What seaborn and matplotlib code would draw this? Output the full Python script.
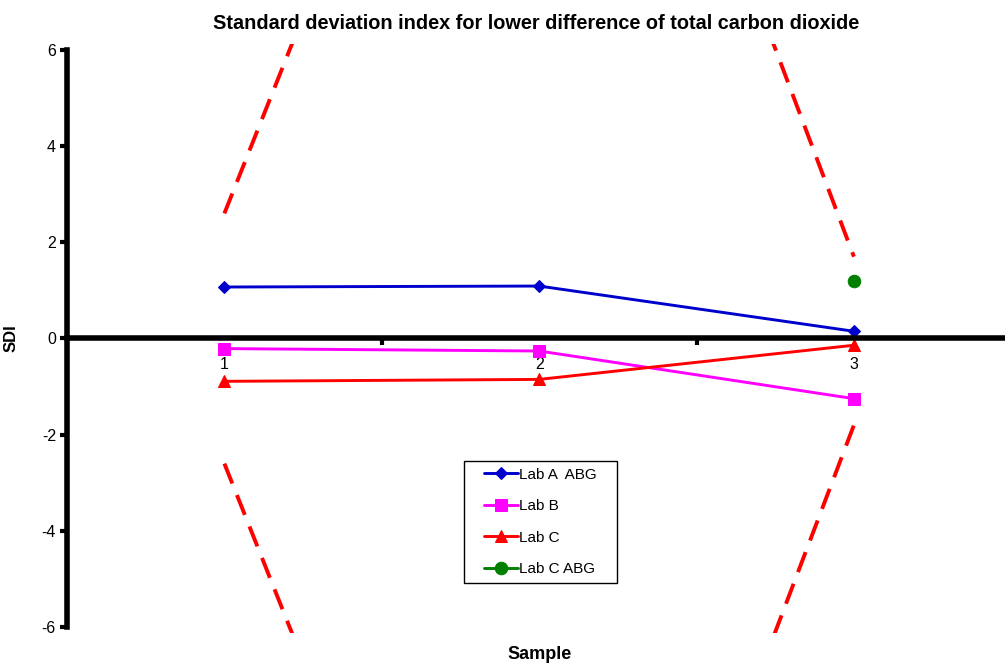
import numpy as np
import pandas as pd
import matplotlib
matplotlib.use("Agg")
import matplotlib.pyplot as plt
from matplotlib.ticker import FixedLocator
from matplotlib.patches import Rectangle
import seaborn as sns

# data
samples = [1, 2, 3]
lab_a_abg = [1.07, 1.09, 0.15]
lab_b = [-0.21, -0.26, -1.25]
lab_c = [-0.89, -0.85, -0.14]
lab_c_abg = [np.nan, np.nan, 1.20]
upper_limit = [2.6, 19.0, 1.7]
lower_limit = [-2.6, -19.0, -1.8]

series = [
    ("Lab A  ABG", lab_a_abg, "#0000CC", "D", 6),
    ("Lab B", lab_b, "#FF00FF", "s", 9),
    ("Lab C", lab_c, "#FF0000", "^", 8),
    ("Lab C ABG", lab_c_abg, "#008000", "o", 9),
]

sns.set_style("white")
plt.rcParams["font.family"] = ["Liberation Sans", "DejaVu Sans"]
plt.rcParams["axes.unicode_minus"] = False
plt.rcParams["text.color"] = "black"
plt.rcParams["axes.labelcolor"] = "black"
plt.rcParams["xtick.color"] = "black"
plt.rcParams["ytick.color"] = "black"

fig = plt.figure(figsize=(10.05, 6.66), dpi=100)
ax = fig.add_axes([67 / 1005, 1 - 633 / 666, 938 / 1005, 589 / 666])

# limit lines (dashed red)
for lim in (upper_limit, lower_limit):
    sns.lineplot(x=samples, y=lim, ax=ax, color="#FF0000", lw=2.8,
                 sort=False, estimator=None, legend=False)
for ln in ax.lines:
    ln.set_dashes([5.5, 3.2])

for name, vals, col, mk, ms in series:
    sns.lineplot(x=samples, y=vals, ax=ax, color=col, marker=mk, markersize=ms,
                 markeredgecolor=col, lw=2.1, label=name, sort=False, estimator=None)

ax.set_xlim(0.5, 3.48)
ax.set_ylim(-6.12, 6.12)

for s in ("top", "right"):
    ax.spines[s].set_visible(False)
ax.spines["left"].set_linewidth(4)
ax.spines["left"].set_bounds(-6, 6)
ax.spines["bottom"].set_position(("data", 0))
ax.spines["bottom"].set_linewidth(4)
ax.spines["left"].set_color("black")
ax.spines["bottom"].set_color("black")

ax.set_yticks([-6, -4, -2, 0, 2, 4, 6])
ax.tick_params(axis="y", direction="out", length=5, width=3, labelsize=11.5, pad=3, left=True)
ax.set_xticks(samples)
ax.set_xticklabels(["1", "2", "3"])
ax.xaxis.set_minor_locator(FixedLocator([1.5, 2.5]))
ax.tick_params(axis="x", which="major", length=0, pad=13, labelsize=11.5)
ax.tick_params(axis="x", which="minor", direction="out", length=5, width=3, bottom=True)

ax.set_ylabel("SDI", fontsize=12, fontweight="bold")
ax.yaxis.set_label_coords(-0.052, 0.5)
ax.set_xlabel("Sample", fontsize=13, fontweight="bold")
ax.xaxis.set_label_coords(0.504, -0.022)
ax.set_title("Standard deviation index for lower difference of total carbon dioxide",
             fontsize=14.3, fontweight="bold", pad=11)

# legend box drawn separately so the padding matches the reference
box = Rectangle((0.4233, 0.0849), 0.1631, 0.2071, transform=ax.transAxes,
                facecolor="white", edgecolor="black", lw=1, zorder=4)
ax.add_patch(box)
handles, labels = ax.get_legend_handles_labels()
leg = ax.legend(handles, labels, loc="center", bbox_to_anchor=(0.5049, 0.1884),
                fontsize=11, frameon=False, handlelength=2.2, handletextpad=0.1,
                labelspacing=1.15, borderpad=0, borderaxespad=0)
leg.set_zorder(5)

fig.savefig("out.png", dpi=100)
